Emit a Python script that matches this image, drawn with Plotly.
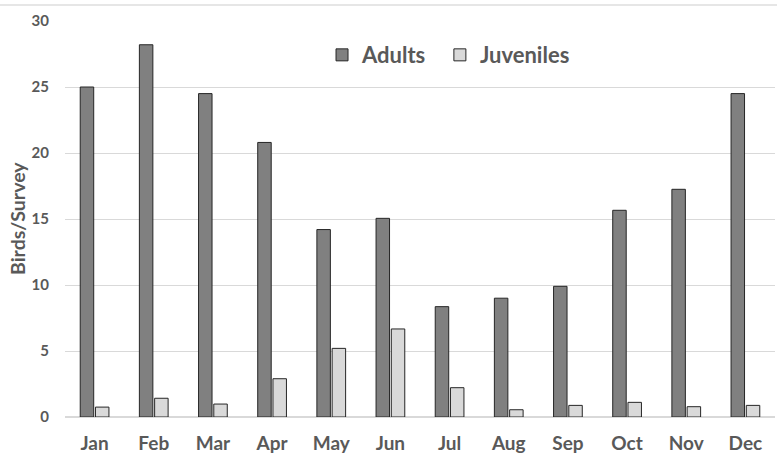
import plotly.graph_objects as go

months = ["Jan", "Feb", "Mar", "Apr", "May", "Jun", "Jul", "Aug", "Sep", "Oct", "Nov", "Dec"]
adults = [25.0, 28.2, 24.5, 20.8, 14.2, 15.05, 8.36, 9.0, 9.9, 15.66, 17.25, 24.5]
juveniles = [0.75, 1.42, 0.98, 2.9, 5.2, 6.67, 2.22, 0.55, 0.88, 1.11, 0.78, 0.88]

txt = "#595959"
font = "Lato"

fig = go.Figure()
fig.add_trace(go.Bar(x=months, y=adults, name="Adults", legend="legend",
                     marker=dict(color="#808080", line=dict(color="#262626", width=1))))
fig.add_trace(go.Bar(x=months, y=juveniles, name="Juveniles", legend="legend2",
                     marker=dict(color="#d9d9d9", line=dict(color="#262626", width=1))))

legend_common = dict(orientation="h", y=0.914, xanchor="left", yanchor="middle",
                     font=dict(family=font, size=22, color=txt, weight="bold"),
                     itemwidth=30, tracegroupgap=0, bgcolor="rgba(0,0,0,0)")

fig.update_layout(
    width=777, height=456,
    margin=dict(l=65, r=2, t=21, b=39, autoexpand=False),
    paper_bgcolor="white", plot_bgcolor="white",
    barmode="group", bargap=0.485, bargroupgap=0.115,
    font=dict(family=font, color=txt),
    showlegend=True,
    legend=dict(x=0.362, **legend_common),
    legend2=dict(x=0.528, **legend_common),
    xaxis=dict(showgrid=False, zeroline=False, showline=False, automargin=False,
               tickfont=dict(family=font, size=19, color=txt, weight="bold"),
               ticklabelstandoff=13),
    yaxis=dict(range=[0, 30], dtick=5, showgrid=True, gridcolor="#d9d9d9", gridwidth=1,
               zeroline=True, zerolinecolor="#d9d9d9", zerolinewidth=1.5, showline=False,
               automargin=False,
               tickfont=dict(family=font, size=15, color=txt, weight="bold"),
               ticklabelstandoff=15),
    annotations=[dict(text="Birds/Survey", xref="paper", yref="paper", x=0, y=0.5,
                      xanchor="center", yanchor="middle", xshift=-48, textangle=-90,
                      showarrow=False,
                      font=dict(family=font, size=19.5, color=txt, weight="bold"))],
    shapes=[dict(type="line", xref="paper", yref="paper", x0=-0.1, x1=1.01,
                 y0=(417 - 5) / 396, y1=(417 - 5) / 396,
                 line=dict(color="#e6e6e6", width=2))],
)

fig.write_html("out.html", post_script="document.body.style.margin='0';",
               config={"displayModeBar": False})
